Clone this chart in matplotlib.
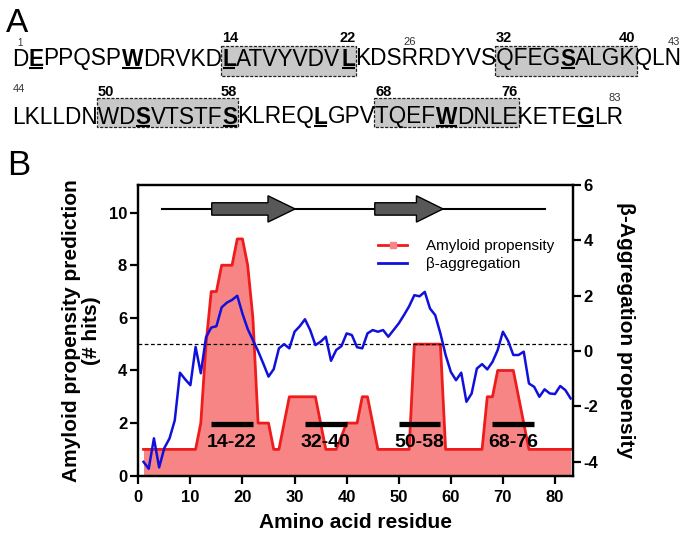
import numpy as np
import matplotlib
matplotlib.use("Agg")
import matplotlib.pyplot as plt
from matplotlib.patches import Rectangle, Polygon
from matplotlib.lines import Line2D
from matplotlib.font_manager import findfont, FontProperties
from matplotlib import ft2font

plt.rcParams['font.family'] = ['Liberation Sans', 'DejaVu Sans']
plt.rcParams['axes.unicode_minus'] = False

# ---------------- data ----------------
seq_line1 = "DEPPQSPWDRVKDLATVYVDVLKDSRRDYVSQFEGSALGKQLN"   # residues 1-43
seq_line2 = "LKLLDNWDSVTSTFSKLREQLGPVTQEFWDNLEKETEGLR"      # residues 44-83
bold_residues = [2, 8, 14, 22, 36, 52, 58, 64, 72, 81]
region_starts = [14, 32, 50, 68]
region_ends = [22, 40, 58, 76]
region_labels = ["14-22", "32-40", "50-58", "68-76"]
marker_numbers = [1, 26, 43, 44, 83]

residues = np.arange(1, 84)
amyloid = [1, 1, 1, 1, 1, 1, 1, 1, 1, 1, 1,      # 1-11
           2, 5, 7, 7, 8, 8, 8, 9, 9, 8, 6,      # 12-22
           2, 2, 2, 1, 1, 2, 3, 3, 3, 3, 3, 3,   # 23-34
           2, 1, 1, 1, 1.5, 2, 2, 2, 3, 3, 2,    # 35-45
           1, 1, 1, 1, 1, 1, 1,                  # 46-52
           5, 5, 5, 5, 5, 5,                     # 53-58
           1, 1, 1, 1, 1, 1, 1, 1,               # 59-66
           3, 3, 4, 4, 4, 4, 3, 2,               # 67-74
           1, 1, 1, 1, 1, 1, 1, 1, 1]            # 75-83
beta_agg = [-4.0, -4.25, -3.15, -4.2, -3.5, -3.15, -2.5, -0.78, -1.02, -1.23,
            0.15, -0.8, 0.5, 0.85, 0.9, 1.58, 1.75, 1.85, 2.0, 1.35,
            0.8, 0.4, 0.0, -0.45, -0.92, -0.65, 0.1, 0.25, 0.1, 0.7,
            0.9, 1.15, 0.76, 0.22, 0.34, 0.52, -0.35, 0.04, 0.18, 0.64,
            0.58, 0.14, 0.10, 0.64, 0.76, 0.70, 0.76, 0.52, 0.76, 1.0,
            1.30, 1.62, 2.02, 1.98, 2.14, 1.54, 1.30, 0.64, -0.14, -0.75,
            -1.05, -0.78, -1.83, -1.53, -0.63, -0.47, -0.66, -0.39, 0.04, 0.70,
            0.37, -0.14, -0.14, -0.02, -1.17, -1.29, -1.65, -1.38, -1.53, -1.55,
            -1.26, -1.41, -1.71]
threshold = 5
strand_starts = [14.1, 45.4]
strand_heads = [24.9, 53.4]
strand_ends = [30.1, 58.5]
coil_start, coil_end = 4.6, 78
structure_y = 10.14
bar_y = 1.95
label_y = 1.28

xticks = [0, 10, 20, 30, 40, 50, 60, 70, 80]
yticks_left = [0, 2, 4, 6, 8, 10]
yticks_right = [-4, -2, 0, 2, 4, 6]

RED = '#EE1C1C'
FILL = '#F88585'
BLUE = '#1010DC'

W, H = 693, 536
fig = plt.figure(figsize=(W / 100, H / 100), dpi=100)

# ---------------- panel A (overlay in pixel coordinates) ----------------
ov = fig.add_axes([0, 0, 1, 1])
ov.set_xlim(0, W)
ov.set_ylim(H, 0)
ov.axis('off')

try:
    NOH = ft2font.LoadFlags.NO_HINTING
except AttributeError:
    NOH = ft2font.LOAD_NO_HINTING

_fonts = {}
def get_font(weight):
    if weight not in _fonts:
        _fonts[weight] = ft2font.FT2Font(findfont(FontProperties(family='Liberation Sans', weight=weight)))
    return _fonts[weight]

def metrics(ch, weight, size):
    f = get_font(weight)
    f.set_size(size, 100)
    g = f.load_char(ord(ch), flags=NOH)
    return g.linearHoriAdvance / 65536.0, g.horiBearingX / 64.0

def layout(seq, start_res, size, ink_left):
    advs, lsbs, weights = [], [], []
    for i, ch in enumerate(seq):
        w = 'bold' if (start_res + i) in bold_residues else 'normal'
        a, l = metrics(ch, w, size)
        advs.append(a); lsbs.append(l); weights.append(w)
    pens = [ink_left - lsbs[0]]
    for a in advs[:-1]:
        pens.append(pens[-1] + a)
    return pens, advs, weights

ref = 16.0
p, a, _ = layout(seq_line1, 1, ref, 0)
total = p[-1] + a[-1] - p[0] - metrics(seq_line1[0], 'normal', ref)[1]
seq_size = ref * (684 - 14) / total

lines = [(seq_line1, 1, 65.5, 46, 76, 41.5), (seq_line2, 44, 123.5, 98, 127, 95.5)]
pos = {}
for seq, start, base, btop, bbot, nbase in lines:
    pens, advs, weights = layout(seq, start, seq_size, 14)
    for i in range(len(seq)):
        pos[start + i] = (pens[i], advs[i], base)
    for s, e in zip(region_starts, region_ends):
        if start <= s < start + len(seq):
            x0 = pos[s][0] - 1
            x1 = pos[e][0] + pos[e][1] + 1
            ov.add_patch(Rectangle((x0, btop), x1 - x0, bbot - btop, facecolor='#C8C8C8',
                                   edgecolor='#222222', lw=0.9, ls=(0, (2.5, 1.2)), zorder=1))
            ov.text(x0 + 1, nbase, str(s), fontsize=10.5, fontweight='bold', ha='left', va='baseline', zorder=3)
            ov.text(x1 - 1, nbase, str(e), fontsize=10.5, fontweight='bold', ha='right', va='baseline', zorder=3)
    i = 0
    while i < len(seq):
        j = i
        while j < len(seq) and weights[j] == weights[i]:
            j += 1
        ov.text(pens[i], base, seq[i:j], fontsize=seq_size, fontweight=weights[i],
                ha='left', va='baseline', zorder=3)
        i = j
    for r in bold_residues:
        if start <= r < start + len(seq):
            x0 = pos[r][0] + 0.5
            x1 = pos[r][0] + pos[r][1] - 0.5
            ov.plot([x0, x1], [base + 2.6, base + 2.6], color='black', lw=1.5, zorder=3,
                    solid_capstyle='butt')

small_base = {1: 46, 26: 45, 43: 45, 44: 92, 83: 101}
small_size = {1: 7, 26: 8, 43: 8, 44: 8, 83: 8}
for r in marker_numbers:
    x, adv, _ = pos[r]
    ov.text(x + adv / 2, small_base[r], str(r), fontsize=small_size[r], ha='center',
            va='baseline', color='#333333', zorder=3)

ov.text(6, 31.5, 'A', fontsize=24, ha='left', va='baseline')
ov.text(7, 175, 'B', fontsize=25, ha='left', va='baseline')

# ---------------- panel B ----------------
L, R, T, B = 138.3, 572.7, 185.0, 475.7
ax = fig.add_axes([L / W, 1 - B / H, (R - L) / W, (B - T) / H])
ax.set_xlim(0, 83.4)
ax.set_ylim(0, 11.05)
ax.patch.set_alpha(0)

ax.fill_between(residues, amyloid, 0, color=FILL, lw=0, zorder=1)
ax.plot(residues, amyloid, color=RED, lw=2.0, zorder=2)
ax.axhline(threshold, color='black', lw=0.9, ls=(0, (3, 2)), zorder=2)

for s, e, lab in zip(region_starts, region_ends, region_labels):
    ax.plot([s, e], [bar_y, bar_y], color='black', lw=3.8, solid_capstyle='butt', zorder=4)
    ax.text((s + e) / 2, label_y, lab, fontsize=14, fontweight='bold', ha='center',
            va='center', zorder=4)

ax.plot([coil_start, coil_end], [structure_y, structure_y], color='black', lw=1.5, zorder=3)
bh, hh = 0.235, 0.5
for x0, xh, x1 in zip(strand_starts, strand_heads, strand_ends):
    verts = [(x0, structure_y - bh), (xh, structure_y - bh), (xh, structure_y - hh),
             (x1, structure_y), (xh, structure_y + hh), (xh, structure_y + bh),
             (x0, structure_y + bh)]
    ax.add_patch(Polygon(verts, closed=True, facecolor='#585858', edgecolor='black',
                         lw=1.0, zorder=4))

ax2 = ax.twinx()
ax2.set_ylim(-4.5, 6)
ax2.plot(residues, beta_agg, color=BLUE, lw=1.8, zorder=3)

for a_ in (ax, ax2):
    for sp in a_.spines.values():
        sp.set_linewidth(1.6)

ax.set_xticks(xticks)
ax.set_xticklabels([str(t) for t in xticks], fontsize=12, fontweight='bold')
ax.set_yticks(yticks_left)
ax.set_yticklabels([str(t) for t in yticks_left], fontsize=12, fontweight='bold')
ax2.set_yticks(yticks_right)
ax2.set_yticklabels([str(t) for t in yticks_right], fontsize=12, fontweight='bold')
ax.tick_params(axis='both', direction='out', length=6, width=1.6, pad=2)
ax.tick_params(axis='x', pad=4)
ax2.tick_params(axis='y', direction='out', length=6, width=1.6, pad=2)

ax.set_xlabel('Amino acid residue', fontsize=15, fontweight='bold')
ax.xaxis.set_label_coords(0.5, -0.13)
ax.set_ylabel('Amyloid propensity prediction\n(# hits)', fontsize=15, fontweight='bold',
              linespacing=1.1)
ax.yaxis.set_label_coords(-0.085, 0.5)
ax2.set_ylabel('β-Aggregation propensity', fontsize=15, fontweight='bold', rotation=270,
               va='bottom')
ax2.yaxis.set_label_coords(1.10, 0.5)

handles = [Line2D([], [], color=RED, lw=2.0, marker='s', ms=4, mfc=FILL, mec=FILL),
           Line2D([], [], color=BLUE, lw=2.0)]
ax2.legend(handles, ['Amyloid propensity', 'β-aggregation'], loc='upper left',
           bbox_to_anchor=(0.5525, 0.814), frameon=False, fontsize=11, handlelength=1.9,
           handletextpad=1.2, labelspacing=0.28, borderaxespad=0, borderpad=0)

fig.savefig('out.png', dpi=100)
